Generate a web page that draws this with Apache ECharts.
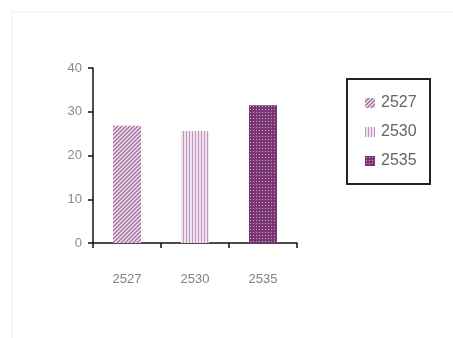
<!DOCTYPE html>
<html>
<head>
<meta charset="utf-8">
<script src="https://cdn.jsdelivr.net/npm/echarts@6/dist/echarts.min.js"></script>
<style>
  html, body { margin: 0; padding: 0; background: #fff; }
  #chart { width: 453px; height: 338px; }
</style>
</head>
<body>
<div id="chart"></div>
<script>
// Categories and values per year
const years = ['2527', '2530', '2535'];
const values = [26.8, 25.6, 31.5];
const yTicks = [0, 10, 20, 30, 40];

// Small tiled canvases used as fill patterns
function makePattern(size, draw) {
  const c = document.createElement('canvas');
  c.width = size; c.height = size;
  const ctx = c.getContext('2d');
  draw(ctx, size);
  return { image: c, repeat: 'repeat' };
}

const hatchDiag = makePattern(4, (ctx, s) => {
  ctx.fillStyle = '#f1e6f0';
  ctx.fillRect(0, 0, s, s);
  ctx.strokeStyle = '#a46ea0';
  ctx.lineWidth = 1.4;
  ctx.beginPath();
  ctx.moveTo(-1, s + 1); ctx.lineTo(s + 1, -1);
  ctx.moveTo(-1, 1); ctx.lineTo(1, -1);
  ctx.moveTo(s - 1, s + 1); ctx.lineTo(s + 1, s - 1);
  ctx.stroke();
});

const hatchVert = makePattern(3, (ctx, s) => {
  ctx.fillStyle = '#efe3ef';
  ctx.fillRect(0, 0, s, s);
  ctx.fillStyle = '#bf95bd';
  ctx.fillRect(0, 0, 1, s);
});

const dots = makePattern(3, (ctx, s) => {
  ctx.fillStyle = '#7a3574';
  ctx.fillRect(0, 0, s, s);
  ctx.fillStyle = '#c9a0c4';
  ctx.fillRect(1, 1, 1, 1);
});

const fills = [hatchDiag, hatchVert, dots];

const series = years.map((y, i) => ({
  name: y,
  type: 'bar',
  stack: 'all',
  barWidth: 28,
  data: years.map((_, j) => (j === i ? values[i] : '-')),
  itemStyle: { color: fills[i] }
}));

const chart = echarts.init(document.getElementById('chart'));
chart.setOption({
  animation: false,
  backgroundColor: '#ffffff',
  grid: { left: 93, right: 156, top: 68, bottom: 95 },
  xAxis: {
    type: 'category',
    data: years,
    axisLine: { lineStyle: { color: '#111', width: 1.5 } },
    axisTick: { show: true, length: 5, lineStyle: { color: '#111', width: 1.5 } },
    axisLabel: { color: '#808080', fontSize: 13, margin: 30, fontFamily: 'Liberation Sans' }
  },
  yAxis: {
    type: 'value',
    min: yTicks[0],
    max: yTicks[yTicks.length - 1],
    interval: 10,
    splitLine: { show: false },
    axisLine: { show: true, lineStyle: { color: '#111', width: 1.5 } },
    axisTick: { show: true, length: 5, lineStyle: { color: '#111', width: 1.5 } },
    axisLabel: { color: '#8a8a8a', fontSize: 13, margin: 11, fontFamily: 'Liberation Sans' }
  },
  legend: {
    orient: 'vertical',
    left: 360,
    top: 90,
    itemWidth: 10,
    itemHeight: 10,
    itemGap: 13,
    icon: 'rect',
    textStyle: { color: '#666', fontSize: 16, fontFamily: 'Liberation Sans', padding: [0, 0, 0, 1] },
    data: years
  },
  graphic: [
    { type: 'rect', shape: { x: 347, y: 79, width: 83, height: 105 },
      style: { fill: 'none', stroke: '#222', lineWidth: 2 } },
    { type: 'polyline', shape: { points: [[12, 338], [12, 12], [453, 12]] },
      style: { fill: 'none', stroke: '#f0f0f0', lineWidth: 1 } }
  ],
  series: series
});
</script>
</body>
</html>
